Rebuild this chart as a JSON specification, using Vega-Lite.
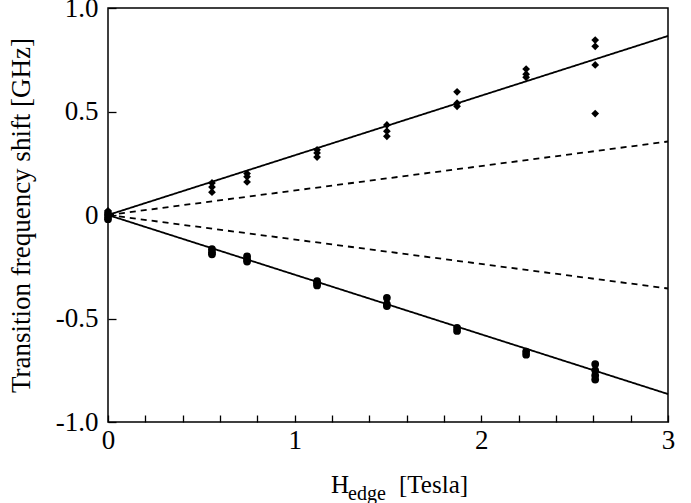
{
  "$schema": "https://vega.github.io/schema/vega-lite/v6.json",
  "width": 560,
  "height": 414,
  "autosize": {"type": "none"},
  "padding": {"left": 108, "top": 8, "right": 23, "bottom": 81},
  "background": "white",
  "config": {
    "view": {"stroke": "black", "strokeWidth": 1.5},
    "font": "Liberation Serif",
    "axis": {"grid": false, "domain": false, "labelFont": "Liberation Serif", "titleFont": "Liberation Serif", "labelFontSize": 27, "titleFontSize": 25, "labelColor": "black", "titleColor": "black", "tickColor": "black", "tickWidth": 1.3, "titleFontWeight": "normal", "labelOverlap": false}
  },
  "title": {"text": "edge", "orient": "bottom", "anchor": "start", "frame": "group", "fontSize": 20, "font": "Liberation Serif", "fontWeight": "normal", "dx": 240, "offset": -13, "color": "black"},
  "datasets": {
    "pts": [
      {"h": 0, "f": 0.02, "m": "up"}, {"h": 0, "f": 0.0, "m": "up"}, {"h": 0, "f": -0.015, "m": "up"},
      {"h": 0.557, "f": 0.155, "m": "up"}, {"h": 0.557, "f": 0.135, "m": "up"}, {"h": 0.557, "f": 0.11, "m": "up"},
      {"h": 0.745, "f": 0.2, "m": "up"}, {"h": 0.745, "f": 0.185, "m": "up"}, {"h": 0.745, "f": 0.16, "m": "up"},
      {"h": 1.12, "f": 0.315, "m": "up"}, {"h": 1.12, "f": 0.3, "m": "up"}, {"h": 1.12, "f": 0.28, "m": "up"},
      {"h": 1.494, "f": 0.435, "m": "up"}, {"h": 1.494, "f": 0.405, "m": "up"}, {"h": 1.494, "f": 0.38, "m": "up"},
      {"h": 1.87, "f": 0.595, "m": "up"}, {"h": 1.87, "f": 0.54, "m": "up"}, {"h": 1.87, "f": 0.525, "m": "up"},
      {"h": 2.24, "f": 0.705, "m": "up"}, {"h": 2.24, "f": 0.68, "m": "up"}, {"h": 2.24, "f": 0.665, "m": "up"},
      {"h": 2.61, "f": 0.845, "m": "up"}, {"h": 2.61, "f": 0.815, "m": "up"}, {"h": 2.61, "f": 0.725, "m": "up"}, {"h": 2.61, "f": 0.49, "m": "up"},
      {"h": 0, "f": 0.01, "m": "down"}, {"h": 0, "f": -0.005, "m": "down"}, {"h": 0, "f": -0.02, "m": "down"},
      {"h": 0.557, "f": -0.165, "m": "down"}, {"h": 0.557, "f": -0.18, "m": "down"}, {"h": 0.557, "f": -0.19, "m": "down"},
      {"h": 0.745, "f": -0.2, "m": "down"}, {"h": 0.745, "f": -0.215, "m": "down"}, {"h": 0.745, "f": -0.225, "m": "down"},
      {"h": 1.12, "f": -0.32, "m": "down"}, {"h": 1.12, "f": -0.33, "m": "down"}, {"h": 1.12, "f": -0.34, "m": "down"},
      {"h": 1.494, "f": -0.4, "m": "down"}, {"h": 1.494, "f": -0.43, "m": "down"}, {"h": 1.494, "f": -0.44, "m": "down"},
      {"h": 1.87, "f": -0.545, "m": "down"}, {"h": 1.87, "f": -0.56, "m": "down"},
      {"h": 2.24, "f": -0.66, "m": "down"}, {"h": 2.24, "f": -0.675, "m": "down"},
      {"h": 2.61, "f": -0.72, "m": "down"}, {"h": 2.61, "f": -0.75, "m": "down"}, {"h": 2.61, "f": -0.775, "m": "down"}, {"h": 2.61, "f": -0.795, "m": "down"}
    ],
    "lines": [
      {"h": 0, "f": 0, "s": "a", "d": "solid"}, {"h": 3, "f": 0.865, "s": "a", "d": "solid"},
      {"h": 0, "f": 0, "s": "b", "d": "solid"}, {"h": 3, "f": -0.865, "s": "b", "d": "solid"},
      {"h": 0, "f": 0, "s": "c", "d": "dash"}, {"h": 3, "f": 0.355, "s": "c", "d": "dash"},
      {"h": 0, "f": 0, "s": "e", "d": "dash"}, {"h": 3, "f": -0.355, "s": "e", "d": "dash"}
    ]
  },
  "layer": [
    {
      "data": {"name": "lines"},
      "mark": {"type": "line", "color": "black", "strokeWidth": 1.8},
      "encoding": {
        "x": {"field": "h", "type": "quantitative", "scale": {"domain": [0, 3], "nice": false, "zero": false},
          "axis": {"values": [0, 0.2, 0.4, 0.6, 0.8, 1, 1.2, 1.4, 1.6, 1.8, 2, 2.2, 2.4, 2.6, 2.8, 3], "tickCount": 30, "labelExpr": "abs(datum.value - round(datum.value)) < 0.001 ? format(round(datum.value), 'd') : ''", "tickSize": -7, "labelPadding": 12, "title": "H\u00a0\u00a0\u00a0\u00a0\u00a0\u00a0\u00a0 [Tesla]", "titlePadding": 19, "titleX": 291, "titleAlign": "center", "labelFlush": false}},
        "y": {"field": "f", "type": "quantitative", "scale": {"domain": [-1, 1], "nice": false},
          "axis": {"values": [-1, -0.5, 0, 0.5, 1], "labelExpr": "datum.value == 0 ? '0' : (datum.value < 0 ? '-' : '') + format(abs(datum.value), '.1f')", "tickSize": -8, "labelPadding": 18, "title": "Transition frequency shift [GHz]", "titleFontSize": 27, "titlePadding": 20, "labelFlush": false}},
        "detail": {"field": "s"},
        "strokeDash": {"field": "d", "type": "nominal", "scale": {"domain": ["solid", "dash"], "range": [[1, 0], [6, 5]]}, "legend": null}
      }
    },
    {
      "data": {"name": "pts"},
      "mark": {"type": "point", "filled": true, "color": "black", "opacity": 1},
      "encoding": {
        "x": {"field": "h", "type": "quantitative"},
        "y": {"field": "f", "type": "quantitative"},
        "shape": {"field": "m", "type": "nominal", "scale": {"domain": ["up", "down"], "range": ["diamond", "circle"]}, "legend": null},
        "size": {"value": 60}
      }
    }
  ]
}
